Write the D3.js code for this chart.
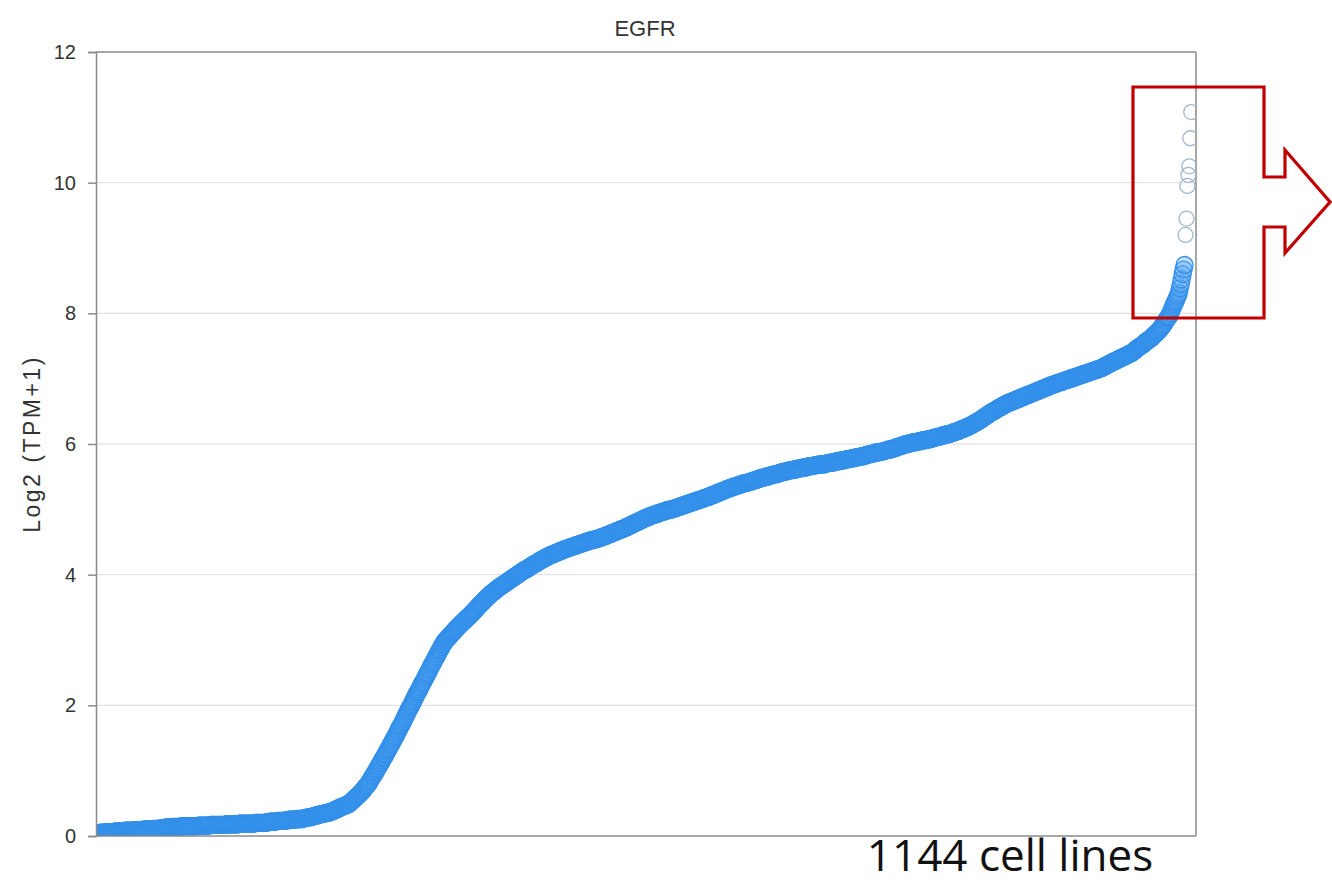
<!DOCTYPE html>
<html><head><meta charset="utf-8">
<script src="https://cdn.jsdelivr.net/npm/d3@7"></script>
<style>body{margin:0;background:#fff}svg{display:block}</style>
</head><body>
<svg id="c" width="1332" height="884"></svg>
<script>
const title = "EGFR";
const yLabel = "Log2 (TPM+1)";
const note = "1144 cell lines";
const yTicks = [0, 2, 4, 6, 8, 10, 12];
// sorted log2(TPM+1) of EGFR across cell lines (main body)
const mainValues = [
0.05,0.05,0.05,0.05,0.05,0.05,0.06,0.06,0.06,0.06,
0.06,0.06,0.06,0.06,0.06,0.07,0.07,0.07,0.07,0.07,
0.07,0.07,0.07,0.07,0.07,0.08,0.08,0.08,0.08,0.08,
0.08,0.08,0.08,0.08,0.08,0.09,0.09,0.09,0.09,0.09,
0.09,0.09,0.09,0.09,0.09,0.10,0.10,0.10,0.10,0.10,
0.10,0.10,0.10,0.10,0.10,0.11,0.11,0.11,0.11,0.11,
0.11,0.11,0.11,0.12,0.12,0.12,0.12,0.12,0.13,0.13,
0.13,0.13,0.13,0.13,0.13,0.14,0.14,0.14,0.14,0.14,
0.14,0.14,0.14,0.14,0.14,0.15,0.15,0.15,0.15,0.15,
0.15,0.15,0.15,0.15,0.15,0.15,0.15,0.15,0.15,0.15,
0.15,0.15,0.16,0.16,0.16,0.16,0.16,0.16,0.16,0.16,
0.16,0.16,0.16,0.16,0.16,0.17,0.17,0.17,0.17,0.17,
0.17,0.17,0.17,0.17,0.17,0.17,0.17,0.17,0.17,0.17,
0.17,0.17,0.18,0.18,0.18,0.18,0.18,0.18,0.18,0.18,
0.18,0.18,0.18,0.18,0.18,0.19,0.19,0.19,0.19,0.19,
0.19,0.19,0.19,0.19,0.19,0.19,0.19,0.19,0.19,0.19,
0.19,0.19,0.20,0.20,0.20,0.20,0.20,0.20,0.20,0.20,
0.20,0.20,0.20,0.21,0.21,0.21,0.21,0.22,0.22,0.22,
0.22,0.22,0.22,0.22,0.22,0.23,0.23,0.23,0.23,0.23,
0.23,0.23,0.23,0.24,0.24,0.24,0.24,0.25,0.25,0.25,
0.25,0.25,0.25,0.25,0.25,0.26,0.26,0.26,0.26,0.26,
0.26,0.26,0.27,0.27,0.27,0.28,0.28,0.28,0.29,0.29,
0.29,0.29,0.30,0.30,0.31,0.31,0.31,0.32,0.32,0.33,
0.33,0.33,0.34,0.34,0.34,0.35,0.35,0.35,0.36,0.36,
0.36,0.37,0.37,0.38,0.39,0.39,0.40,0.41,0.41,0.42,
0.43,0.44,0.44,0.45,0.45,0.46,0.47,0.47,0.48,0.48,
0.49,0.50,0.52,0.53,0.54,0.56,0.57,0.58,0.60,0.61,
0.62,0.64,0.65,0.67,0.69,0.70,0.72,0.74,0.76,0.77,
0.79,0.81,0.84,0.86,0.89,0.91,0.93,0.96,0.98,1.01,
1.03,1.06,1.08,1.11,1.13,1.16,1.19,1.21,1.24,1.26,
1.29,1.32,1.34,1.37,1.40,1.42,1.45,1.48,1.51,1.53,
1.56,1.59,1.62,1.65,1.68,1.70,1.73,1.76,1.79,1.82,
1.85,1.88,1.91,1.94,1.97,1.99,2.02,2.05,2.08,2.11,
2.14,2.17,2.20,2.22,2.25,2.28,2.31,2.34,2.36,2.39,
2.42,2.45,2.48,2.50,2.53,2.56,2.59,2.62,2.64,2.67,
2.70,2.73,2.75,2.78,2.81,2.84,2.86,2.89,2.92,2.94,
2.97,2.99,3.00,3.02,3.03,3.05,3.07,3.08,3.10,3.11,
3.13,3.15,3.16,3.18,3.19,3.21,3.22,3.24,3.25,3.27,
3.28,3.29,3.31,3.32,3.34,3.35,3.36,3.38,3.39,3.41,
3.42,3.44,3.45,3.47,3.48,3.50,3.52,3.53,3.55,3.56,
3.58,3.59,3.61,3.62,3.64,3.65,3.66,3.68,3.69,3.71,
3.72,3.73,3.74,3.75,3.76,3.78,3.79,3.80,3.81,3.82,
3.83,3.84,3.85,3.86,3.87,3.88,3.89,3.90,3.91,3.92,
3.93,3.94,3.95,3.96,3.97,3.98,3.99,4.00,4.01,4.02,
4.03,4.04,4.05,4.06,4.07,4.08,4.08,4.09,4.10,4.11,
4.12,4.13,4.14,4.15,4.16,4.17,4.17,4.18,4.19,4.20,
4.21,4.22,4.23,4.23,4.24,4.25,4.26,4.27,4.27,4.28,
4.29,4.30,4.30,4.31,4.31,4.32,4.33,4.33,4.34,4.34,
4.35,4.36,4.36,4.37,4.37,4.38,4.39,4.39,4.40,4.40,
4.41,4.41,4.42,4.42,4.43,4.43,4.44,4.44,4.45,4.45,
4.46,4.46,4.47,4.47,4.48,4.48,4.49,4.49,4.50,4.50,
4.51,4.51,4.52,4.52,4.53,4.53,4.53,4.54,4.54,4.54,
4.55,4.55,4.56,4.56,4.57,4.57,4.58,4.58,4.59,4.59,
4.60,4.61,4.61,4.62,4.62,4.63,4.64,4.64,4.65,4.65,
4.66,4.67,4.67,4.68,4.68,4.69,4.70,4.70,4.71,4.71,
4.72,4.73,4.73,4.74,4.75,4.75,4.76,4.77,4.78,4.78,
4.79,4.80,4.80,4.81,4.82,4.82,4.83,4.84,4.85,4.85,
4.86,4.87,4.87,4.88,4.88,4.89,4.90,4.90,4.91,4.91,
4.92,4.92,4.93,4.93,4.94,4.94,4.95,4.95,4.96,4.96,
4.97,4.97,4.98,4.98,4.99,4.99,4.99,5.00,5.00,5.00,
5.01,5.01,5.02,5.02,5.03,5.03,5.04,5.04,5.05,5.05,
5.06,5.06,5.07,5.07,5.08,5.08,5.09,5.09,5.10,5.10,
5.11,5.11,5.12,5.12,5.13,5.13,5.14,5.14,5.15,5.15,
5.16,5.16,5.17,5.17,5.18,5.18,5.19,5.19,5.20,5.20,
5.21,5.22,5.22,5.23,5.23,5.24,5.25,5.25,5.26,5.26,
5.27,5.28,5.28,5.29,5.29,5.30,5.31,5.31,5.32,5.32,
5.33,5.33,5.34,5.34,5.35,5.35,5.36,5.36,5.37,5.37,
5.38,5.38,5.39,5.39,5.40,5.40,5.40,5.41,5.41,5.41,
5.42,5.42,5.43,5.43,5.44,5.44,5.45,5.45,5.46,5.46,
5.47,5.47,5.48,5.48,5.49,5.49,5.49,5.50,5.50,5.50,
5.51,5.51,5.52,5.52,5.53,5.53,5.53,5.54,5.54,5.54,
5.55,5.55,5.56,5.56,5.57,5.57,5.57,5.58,5.58,5.58,
5.59,5.59,5.60,5.60,5.60,5.60,5.61,5.61,5.61,5.61,
5.62,5.62,5.63,5.63,5.63,5.63,5.64,5.64,5.64,5.64,
5.65,5.65,5.66,5.66,5.66,5.66,5.67,5.67,5.67,5.67,
5.68,5.68,5.68,5.68,5.69,5.69,5.69,5.69,5.69,5.69,
5.70,5.70,5.71,5.71,5.71,5.71,5.72,5.72,5.72,5.72,
5.73,5.73,5.74,5.74,5.74,5.74,5.75,5.75,5.75,5.75,
5.76,5.76,5.77,5.77,5.77,5.77,5.78,5.78,5.78,5.78,
5.79,5.79,5.80,5.80,5.80,5.80,5.81,5.81,5.81,5.81,
5.82,5.82,5.83,5.83,5.84,5.84,5.84,5.85,5.85,5.85,
5.86,5.86,5.87,5.87,5.87,5.87,5.88,5.88,5.88,5.88,
5.89,5.89,5.90,5.90,5.91,5.91,5.91,5.92,5.92,5.92,
5.93,5.93,5.94,5.94,5.95,5.95,5.96,5.96,5.97,5.97,
5.98,5.98,5.99,5.99,6.00,6.00,6.00,6.01,6.01,6.01,
6.02,6.02,6.03,6.03,6.03,6.03,6.04,6.04,6.04,6.04,
6.05,6.05,6.06,6.06,6.06,6.06,6.07,6.07,6.07,6.07,
6.08,6.08,6.09,6.09,6.10,6.10,6.10,6.11,6.11,6.11,
6.12,6.12,6.13,6.13,6.14,6.14,6.14,6.15,6.15,6.15,
6.16,6.16,6.17,6.17,6.18,6.18,6.19,6.19,6.20,6.20,
6.21,6.22,6.22,6.23,6.23,6.24,6.25,6.25,6.26,6.26,
6.27,6.28,6.29,6.29,6.30,6.31,6.32,6.33,6.33,6.34,
6.35,6.36,6.37,6.38,6.39,6.40,6.41,6.42,6.43,6.44,
6.45,6.46,6.47,6.48,6.49,6.50,6.50,6.51,6.52,6.53,
6.54,6.55,6.56,6.56,6.57,6.58,6.59,6.60,6.60,6.61,
6.62,6.63,6.63,6.64,6.64,6.65,6.66,6.66,6.67,6.67,
6.68,6.69,6.69,6.70,6.70,6.71,6.72,6.72,6.73,6.73,
6.74,6.75,6.75,6.76,6.76,6.77,6.78,6.78,6.79,6.79,
6.80,6.81,6.81,6.82,6.82,6.83,6.84,6.84,6.85,6.85,
6.86,6.87,6.87,6.88,6.88,6.89,6.90,6.90,6.91,6.91,
6.92,6.92,6.93,6.93,6.94,6.94,6.95,6.95,6.96,6.96,
6.97,6.97,6.98,6.98,6.99,6.99,7.00,7.00,7.01,7.01,
7.02,7.02,7.03,7.03,7.04,7.04,7.05,7.05,7.06,7.06,
7.07,7.07,7.08,7.08,7.09,7.09,7.10,7.10,7.11,7.11,
7.12,7.12,7.13,7.13,7.14,7.14,7.15,7.15,7.16,7.16,
7.17,7.18,7.19,7.19,7.20,7.21,7.22,7.23,7.23,7.24,
7.25,7.26,7.26,7.27,7.28,7.28,7.29,7.30,7.31,7.31,
7.32,7.33,7.33,7.34,7.35,7.35,7.36,7.37,7.38,7.38,
7.39,7.40,7.41,7.42,7.43,7.45,7.46,7.47,7.48,7.49,
7.50,7.51,7.52,7.53,7.54,7.56,7.57,7.58,7.59,7.60,
7.61,7.62,7.64,7.65,7.67,7.68,7.69,7.71,7.72,7.74,
7.75,7.77,7.79,7.81,7.83,7.85,7.88,7.90,7.92,7.94,
7.96,8.00,8.03,8.07,8.10,8.14,8.17,8.20,8.24,8.27,
8.31,8.38,8.45,8.52,8.60,8.67,8.74
];
// highest-expressing cell lines (highlighted, pale)
const topValues = [9.20, 9.45, 9.95, 10.12, 10.25, 10.68, 11.08];

const svg = d3.select("#c");
const m = {left: 96, right: 1196, top: 52, bottom: 836};
const allVals = mainValues.concat(topValues);
const n = allVals.length;

const x = d3.scaleLinear().domain([-5, n + 4]).range([m.left, m.right]);
const y = d3.scaleLinear().domain([0, 12]).range([m.bottom, m.top]);

// gridlines
svg.append("g").selectAll("line").data(yTicks.filter(t => t > 0 && t < 12)).join("line")
  .attr("x1", m.left).attr("x2", m.right)
  .attr("y1", d => y(d)).attr("y2", d => y(d))
  .attr("stroke", "#dcdcdc").attr("stroke-width", 1);

// frame top & right
svg.append("line").attr("x1", m.left).attr("x2", m.right).attr("y1", m.top).attr("y2", m.top)
  .attr("stroke", "#8a8a8a").attr("stroke-width", 1.5);
svg.append("line").attr("x1", m.right).attr("x2", m.right).attr("y1", m.top).attr("y2", m.bottom)
  .attr("stroke", "#8a8a8a").attr("stroke-width", 1.5);

// clip
svg.append("clipPath").attr("id", "clip").append("rect")
  .attr("x", m.left).attr("y", m.top).attr("width", m.right - m.left).attr("height", m.bottom - m.top);

const pts = svg.append("g").attr("clip-path", "url(#clip)");
pts.selectAll("circle.main").data(mainValues).join("circle")
  .attr("class", "main")
  .attr("cx", (d, i) => x(i)).attr("cy", d => y(d)).attr("r", 8.5)
  .attr("fill", "rgba(80,160,240,0.35)")
  .attr("stroke", "#3390ea").attr("stroke-width", 1.3);
pts.selectAll("circle.top").data(topValues).join("circle")
  .attr("class", "top")
  .attr("cx", (d, i) => x(mainValues.length + i)).attr("cy", d => y(d)).attr("r", 7.5)
  .attr("fill", "none")
  .attr("stroke", "#a3b7cb").attr("stroke-width", 1.3);

// y axis
const yAxis = d3.axisLeft(y).tickValues(yTicks).tickSize(8).tickPadding(12).tickFormat(d3.format("d"));
const ga = svg.append("g").attr("transform", `translate(${m.left},0)`).call(yAxis);
ga.select(".domain").attr("stroke", "#8a8a8a").attr("stroke-width", 1.5);
ga.selectAll(".tick line").attr("stroke", "#8a8a8a").attr("stroke-width", 1.5);
ga.selectAll(".tick text").attr("fill", "#333").style("font-family", "'Liberation Sans',Arial,sans-serif").style("font-size", "20px");

// x axis line
svg.append("line").attr("x1", m.left).attr("x2", m.right).attr("y1", m.bottom).attr("y2", m.bottom)
  .attr("stroke", "#8a8a8a").attr("stroke-width", 1.5);

// title
svg.append("text").attr("x", 645).attr("y", 36).attr("text-anchor", "middle")
  .attr("fill", "#333").style("font-family", "'Liberation Sans',Arial,sans-serif").style("font-size", "22px")
  .text(title);

// y label
svg.append("text").attr("transform", `translate(40,${(m.top + m.bottom) / 2}) rotate(-90)`)
  .attr("text-anchor", "middle").attr("fill", "#333")
  .style("font-family", "'Liberation Sans',Arial,sans-serif").style("font-size", "23px")
  .style("letter-spacing", "2.5px")
  .text(yLabel);

// annotation arrow
const arrow = [[1133, 87], [1264, 87], [1264, 177], [1285, 177], [1285, 150], [1330, 202],
  [1285, 253], [1285, 227], [1264, 227], [1264, 318], [1133, 318]];
svg.append("path").attr("d", d3.line()(arrow) + "Z")
  .attr("fill", "none").attr("stroke", "#c00000").attr("stroke-width", 3.2);

// note
svg.append("text").attr("x", 1010).attr("y", 871).attr("text-anchor", "middle")
  .attr("fill", "#111").style("font-family", "'Open Sans','Noto Sans',sans-serif").style("font-size", "44px")
  .text(note);
</script>
</body></html>
